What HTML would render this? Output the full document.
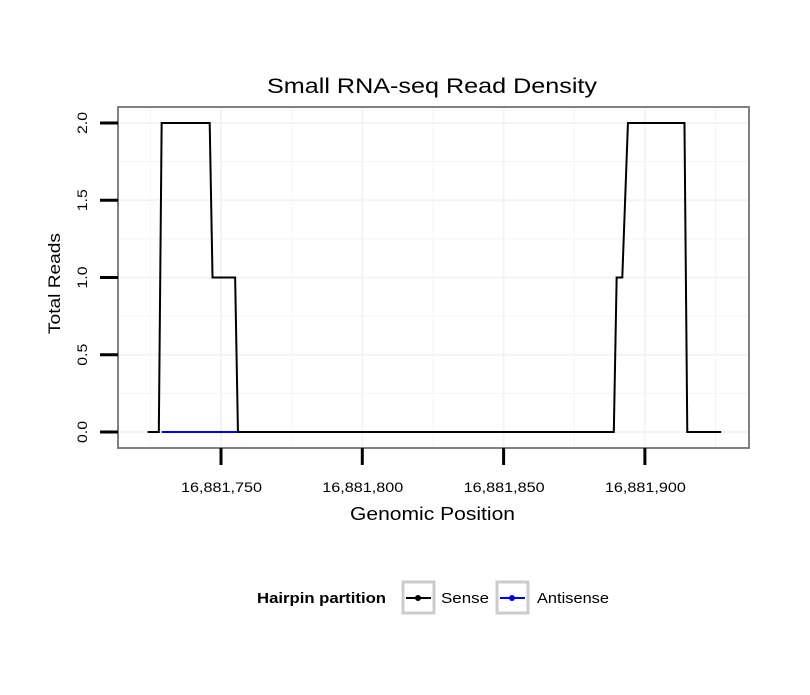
<!DOCTYPE html>
<html><head><meta charset="utf-8"><style>
body{margin:0;background:#fff;}
svg{font-family:"Liberation Sans",sans-serif;}
</style></head><body>
<svg id="chart" width="810" height="690" viewBox="0 0 810 690">
<rect width="810" height="690" fill="#fff"/>
<text x="267" y="93" font-size="21" textLength="330" lengthAdjust="spacingAndGlyphs">Small RNA-seq Read Density</text>
<g id="grid"></g>
<g id="series"></g>
<rect x="118" y="107" width="631" height="341" fill="none" stroke="#808080" stroke-width="2"/>
<g id="axes"></g>
<text x="350" y="520" font-size="18" textLength="165" lengthAdjust="spacingAndGlyphs">Genomic Position</text>
<text transform="translate(60,334) rotate(-90)" font-size="17" textLength="101" lengthAdjust="spacingAndGlyphs">Total Reads</text>
<g>
<text x="257" y="603" font-size="15" font-weight="bold" textLength="129" lengthAdjust="spacingAndGlyphs">Hairpin partition</text>
<g>
<rect x="403" y="582" width="31" height="31" fill="#fff" stroke="#ccc" stroke-width="3"/>
<line x1="406" y1="598" x2="431" y2="598" stroke="#000" stroke-width="2"/><circle cx="418" cy="598" r="3" fill="#000"/>
<text x="441" y="603" font-size="15" textLength="48" lengthAdjust="spacingAndGlyphs">Sense</text></g>
<g>
<rect x="497" y="582" width="31" height="31" fill="#fff" stroke="#ccc" stroke-width="3"/>
<line x1="500" y1="598" x2="525" y2="598" stroke="#00f" stroke-width="2"/><circle cx="512" cy="598" r="3" fill="#00f"/>
<text x="537" y="603" font-size="15" textLength="72" lengthAdjust="spacingAndGlyphs">Antisense</text></g>
</g>
</svg>
<script>
const xTicks=[16881750,16881800,16881850,16881900];
const xTickLabels=["16,881,750","16,881,800","16,881,850","16,881,900"];
const yTicks=[0,0.5,1,1.5,2];
const yTickLabels=["0.0","0.5","1.0","1.5","2.0"];
const senseX=[16881724,16881728,16881729,16881746,16881747,16881755,16881756,16881889,16881890,16881892,16881894,16881914,16881915,16881927];
const senseY=[0,0,2,2,1,1,0,0,1,1,2,2,0,0];
const antiX=[16881729,16881756,16881889,16881915];
const antiY=[0,0,NaN,0];
const X=v=>221+(v-16881750)*2.826;
const Y=v=>432-v*154.5;
const NS="http://www.w3.org/2000/svg";
function mk(t,a,p){const e=document.createElementNS(NS,t);for(const k in a)e.setAttribute(k,a[k]);p.appendChild(e);return e;}
const grid=document.getElementById('grid'),axes=document.getElementById('axes'),ser=document.getElementById('series');
for(let v=16881725;v<=16881925;v+=25){
 const l=mk('line',{x1:X(v),x2:X(v),y1:108,y2:447,stroke:'#f4f4f4','stroke-width':(v%50===0)?2:1},grid);
 }
for(let v=0;v<=2.25;v+=0.25){ if(Y(v)<108)continue;
 const l=mk('line',{x1:119,x2:748,y1:Y(v),y2:Y(v),stroke:'#f4f4f4','stroke-width':(v*2%1===0)?2:1},grid);
 }
xTicks.forEach((v,i)=>{
 const t=mk('line',{x1:X(v),x2:X(v),y1:448,y2:465,stroke:'#000','stroke-width':3},axes);
 
 const s=mk('text',{x:X(v)-40,y:492,'font-size':14,textLength:81,lengthAdjust:'spacingAndGlyphs'},axes);s.textContent=xTickLabels[i];
 });
yTicks.forEach((v,i)=>{
 const t=mk('line',{x1:100,x2:118,y1:Y(v),y2:Y(v),stroke:'#000','stroke-width':3},axes);
 
 const s=mk('text',{transform:`translate(87,${Y(v)+11}) rotate(-90)`,'font-size':14,textLength:22,lengthAdjust:'spacingAndGlyphs'},axes);s.textContent=yTickLabels[i];
 });
function path(xs,ys){let d='',pen=false;xs.forEach((x,i)=>{if(isNaN(ys[i])){pen=false;return;}d+=(pen?'L':'M')+X(x)+','+Y(ys[i]);pen=true;});return d;}
const sp=mk('path',{d:path(senseX,senseY),fill:'none',stroke:'#000','stroke-width':2},ser);

const ap=mk('path',{d:path(antiX,antiY),fill:'none',stroke:'#00f','stroke-width':2},ser);

</script>
</body></html>
